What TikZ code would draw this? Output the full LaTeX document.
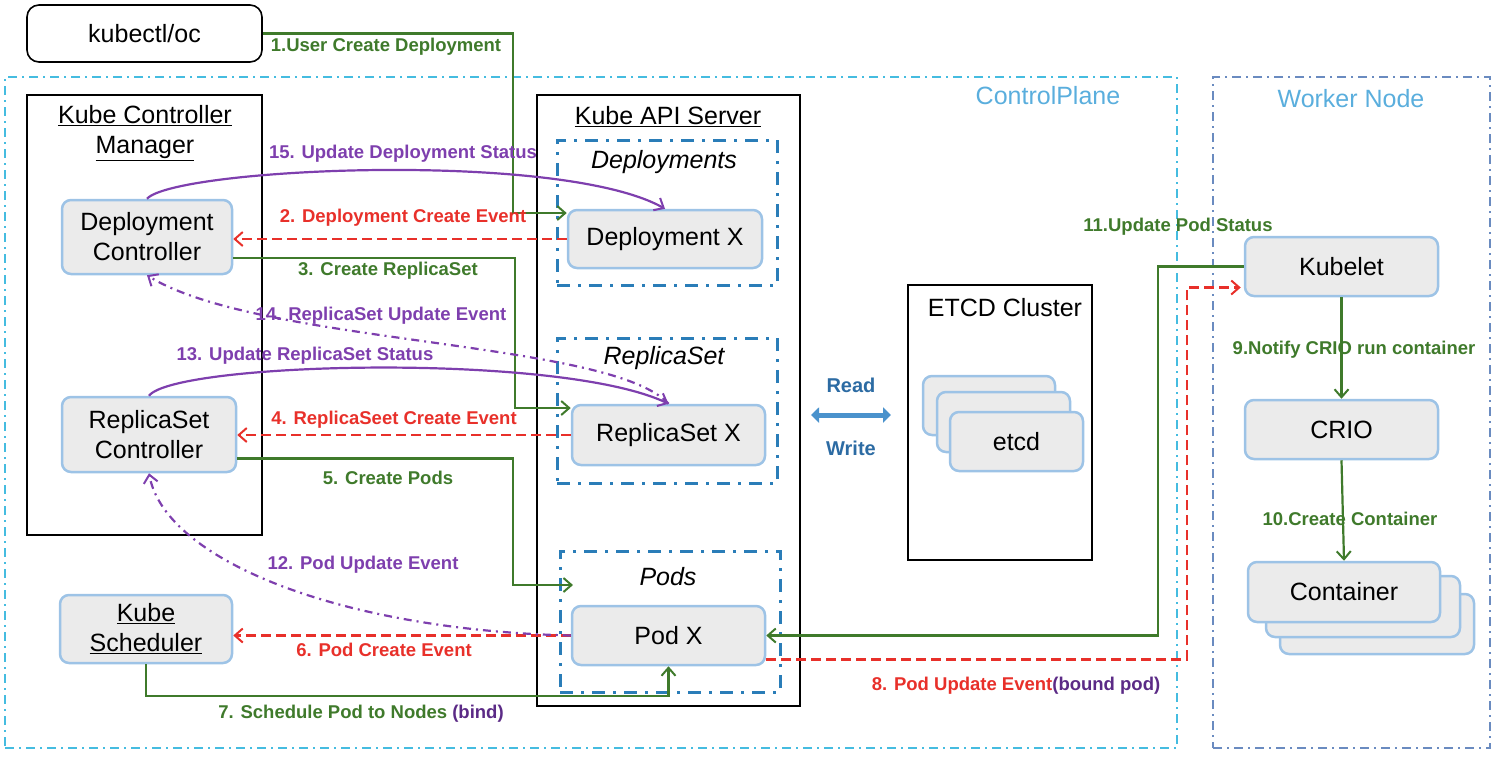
\documentclass[tikz,border=0pt]{standalone}
\usepackage{fontspec}
\setmainfont{Liberation Sans}
\usetikzlibrary{arrows.meta,calc}
\definecolor{cgreen}{HTML}{3F7A2B}
\definecolor{cred}{HTML}{E8302A}
\definecolor{cpurple}{HTML}{7E3FAE}
\definecolor{cdpurple}{HTML}{5B2A86}
\definecolor{nborder}{HTML}{9DC3E6}
\definecolor{nfill}{HTML}{EBEBEB}
\definecolor{dboxc}{HTML}{2A7DB8}
\definecolor{cpline}{HTML}{45BCE0}
\definecolor{cptext}{HTML}{5AAEDD}
\definecolor{wnline}{HTML}{6A8BC0}
\definecolor{rwblue}{HTML}{2C6BA3}
\definecolor{rwarrow}{HTML}{4A92CC}
\newcommand\mainf{\fontsize{25}{30}\selectfont}
\newcommand\labf{\fontsize{18.5}{22}\selectfont\bfseries}
\begin{document}
\begin{tikzpicture}[x=1pt,y=-1pt,
  comp/.style={draw=nborder, fill=nfill, line width=2.5pt, rounded corners=9pt, inner sep=0pt, font=\mainf, align=center},
  blackbox/.style={draw=black, line width=1.6pt, inner sep=0pt},
  dbox/.style={draw=dboxc, line width=3pt, dash pattern=on 13pt off 8pt on 3pt off 8pt, inner sep=0pt},
  cpbox/.style={draw=cpline, line width=2pt, dash pattern=on 9pt off 5pt on 2pt off 5pt, inner sep=0pt},
  wnbox/.style={draw=wnline, line width=2pt, dash pattern=on 9pt off 5pt on 2pt off 5pt, inner sep=0pt},
  title/.style={font=\mainf, inner sep=0pt, align=center},
  tip/.style={-{Straight Barb[length=8pt,width=14pt,line width=2pt]}},
  garrow/.style={draw=cgreen, line width=2.2pt, tip},
  rarrow/.style={draw=cred, line width=2.8pt, dash pattern=on 10pt off 5pt, tip},
  parrow/.style={draw=cpurple, line width=2.2pt, tip},
  pdarrow/.style={draw=cpurple, line width=2.2pt, dash pattern=on 8pt off 5pt on 2pt off 5pt, tip},
  glab/.style={font=\labf, text=cgreen, inner sep=0pt},
  rlab/.style={font=\labf, text=cred, inner sep=0pt},
  plab/.style={font=\labf, text=cpurple, inner sep=0pt},
  rwlab/.style={font=\fontsize{20}{24}\selectfont\bfseries, text=rwblue, inner sep=0pt},
  rw/.style={draw=rwarrow, line width=5pt, {Triangle[length=8pt,width=15pt]}-{Triangle[length=8pt,width=15pt]}}
]
\useasboundingbox (0,0) rectangle (1512,764);

% regions
\node[cpbox, minimum width=1172, minimum height=671] (cp) at (591,412.5) {};
\node[wnbox, minimum width=277, minimum height=671] (wn) at (1351.5,412.5) {};
\node[title, text=cptext] (cpt) at (1048,96) {ControlPlane};
\node[title, text=cptext] (wnt) at (1351,99) {Worker Node};

% kubectl
\node[blackbox, rounded corners=12pt, minimum width=235, minimum height=57, font=\mainf] (kubectl) at (144.5,33.5) {kubectl/oc};

% Kube Controller Manager
\node[blackbox, minimum width=235, minimum height=440] (kcm) at (144.5,315) {};
\node[title] (kcmt) at (145,133) {\underline{Kube Controller}\\\underline{Manager}};
\node[comp, minimum width=170, minimum height=74] (dc) at (147,237) {Deployment\\Controller};
\node[comp, minimum width=174, minimum height=75] (rsc) at (149,434.5) {ReplicaSet\\Controller};
\node[comp, minimum width=172, minimum height=68] (ks) at (146,629) {\underline{Kube}\\\underline{Scheduler}};

% API server
\node[blackbox, minimum width=263, minimum height=611] (api) at (668.5,400.5) {};
\node[title] (apit) at (668,117) {\underline{Kube API Server}};
\node[dbox, minimum width=220, minimum height=145] (deps) at (667,212.5) {};
\node[title, font=\mainf\itshape] (depst) at (664,162) {Deployments};
\node[comp, minimum width=194, minimum height=58] (dx) at (665,239) {Deployment X};
\node[dbox, minimum width=220, minimum height=145] (rsb) at (667,410.5) {};
\node[title, font=\mainf\itshape] (rsbt) at (664,358) {ReplicaSet};
\node[comp, minimum width=193, minimum height=60] (rsx) at (668.5,435) {ReplicaSet X};
\node[dbox, minimum width=220, minimum height=141] (pods) at (670,621.5) {};
\node[title, font=\mainf\itshape] (podst) at (668,577) {Pods};
\node[comp, minimum width=193, minimum height=59] (podx) at (668.5,635.5) {Pod X};

% ETCD
\node[blackbox, minimum width=184, minimum height=275] (etcdc) at (1000,422.5) {};
\node[title] (etcdt) at (1005,308) {ETCD Cluster};
\node[comp, minimum width=132, minimum height=59] (etcd3) at (989,405.5) {};
\node[comp, minimum width=133, minimum height=60] (etcd2) at (1003.5,422) {};
\node[comp, minimum width=133, minimum height=59] (etcd1) at (1016.5,441.5) {etcd};

% read/write
\coordinate (rwL) at (811,415);
\coordinate (rwR) at (891,415);
\draw[rw] (rwL) -- (rwR);
\node[rwlab] (readl) at (851,385) {Read};
\node[rwlab] (writel) at (851,448) {Write};

% worker
\node[comp, minimum width=193, minimum height=59] (kubelet) at (1341.5,266.5) {Kubelet};
\node[comp, minimum width=193, minimum height=59] (crio) at (1341.5,429.5) {CRIO};
\node[comp, minimum width=194, minimum height=60] (cont3) at (1377,624) {};
\node[comp, minimum width=194, minimum height=61] (cont2) at (1363,606.5) {};
\node[comp, minimum width=192, minimum height=60] (cont1) at (1344,592) {Container};

% bend coordinates
\coordinate (b1) at (513,0);
\coordinate (b3) at (515,0);
\coordinate (b5) at (513,0);
\coordinate (e5) at (573,585);
\coordinate (b8) at (1187,0);
\coordinate (b11) at (1158,0);
\coordinate (s3) at ([yshift=-21pt]dc.east);
\coordinate (e3) at ([yshift=27pt]rsx.west);
\coordinate (s5) at ([yshift=-24pt]rsc.east);
\coordinate (e1) at ([yshift=26pt]dx.west);
\coordinate (s8) at ([yshift=-24pt]podx.east);
\coordinate (e8) at ([yshift=-21pt]kubelet.west);

% connectors
\draw[garrow] (kubectl.east) -| (b1 |- e1) -- (e1);
\draw[rarrow] (dx.west) -- (dc.east |- dx.west);
\draw[garrow] (s3) -| (b3 |- e3) -- (e3);
\draw[rarrow] (rsx.west) -- (rsc.east |- rsx.west);
\draw[garrow] (s5) -| (b5 |- e5) -- (e5);
\draw[rarrow] (podx.west) -- (ks.east |- podx.west);
\draw[garrow] (ks.south) -- ++(0,32) -| (podx.south);
\draw[rarrow] (s8) -| (b8 |- e8) -- ([xshift=-3pt]e8);
\draw[garrow] (kubelet.south) -- (crio.north);
\draw[garrow] (crio.south) -- (cont1.north);
\draw[garrow] (kubelet.west) -| (b11 |- podx.east) -- (podx.east);
\draw[pdarrow] (podx.west) .. controls (340,630) and (165,560) .. (rsc.south);
\draw[parrow] (rsc.north) .. controls (175,362) and (560,352) .. (rsx.north);
\draw[pdarrow] (rsx.north) .. controls (610,340) and (260,345) .. (dc.south);
\draw[parrow] (dc.north) .. controls (175,168) and (560,150) .. (dx.north);

% labels
\node[glab] (l1) at (386,47) {1.User Create Deployment};
\node[plab] (l15) at (403,154) {15. Update Deployment Status};
\node[rlab] (l2) at (403,218) {2. Deployment Create Event};
\node[glab] (l3) at (388,271) {3. Create ReplicaSet};
\node[plab] (l14) at (381,316) {14. ReplicaSet Update Event};
\node[plab] (l13) at (305,356) {13. Update ReplicaSet Status};
\node[rlab] (l4) at (394,420) {4. ReplicaSeet Create Event};
\node[glab] (l5) at (388,478) {5. Create Pods};
\node[plab] (l12) at (363,565) {12. Pod Update Event};
\node[rlab] (l6) at (384,650) {6. Pod Create Event};
\node[glab] (l7) at (361,714) {7. Schedule Pod to Nodes \textcolor{cdpurple}{(bind)}};
\node[rlab] (l8) at (1016,686) {8. Pod Update Event\textcolor{cdpurple}{(bound pod)}};
\node[glab] (l11) at (1178,227) {11.Update Pod Status};
\node[glab] (l9) at (1354,350) {9.Notify CRIO run container};
\node[glab] (l10) at (1350,519) {10.Create Container};
\end{tikzpicture}
\end{document}
